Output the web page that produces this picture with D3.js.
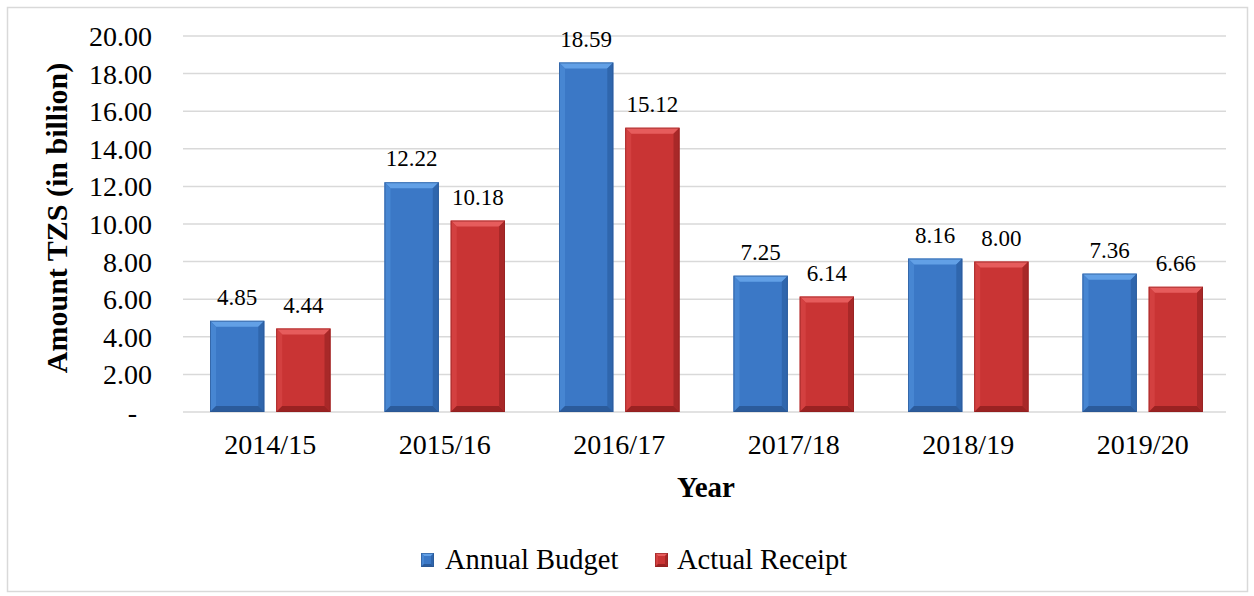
<!DOCTYPE html>
<html><head><meta charset="utf-8">
<script src="https://cdn.jsdelivr.net/npm/d3@7"></script>
<style>body{margin:0;background:#fff}svg{display:block}</style>
</head><body>
<svg id="c" width="1254" height="596"></svg>
<script>
const categories = ["2014/15","2015/16","2016/17","2017/18","2018/19","2019/20"];
const seriesNames = ["Annual Budget","Actual Receipt"];
const annualBudget = [4.85,12.22,18.59,7.25,8.16,7.36];
const actualReceipt = [4.44,10.18,15.12,6.14,8.00,6.66];
const yTicks = [0,2,4,6,8,10,12,14,16,18,20];
const labels = [["4.85","12.22","18.59","7.25","8.16","7.36"],["4.44","10.18","15.12","6.14","8.00","6.66"]];

const FONT = '"Liberation Serif"';
const svg = d3.select("#c");
svg.append("rect").attr("x",7.5).attr("y",7.5).attr("width",1240).attr("height",584)
  .attr("fill","#fff").attr("stroke","#d9d9d9").attr("stroke-width",1.5);

const m={l:183,r:1230,t:36,b:412};
const x0=d3.scaleBand().domain(categories).range([m.l,m.r]);
const x1=d3.scaleBand().domain(seriesNames).range([27,x0.bandwidth()-27]).paddingInner(0.18);
const y=d3.scaleLinear().domain([0,20]).range([m.b,m.t]);

// gridlines
svg.append("g").selectAll("line").data(yTicks).join("line")
  .attr("x1",m.l).attr("x2",m.r-4).attr("y1",d=>y(d)).attr("y2",d=>y(d))
  .attr("stroke","#d9d9d9").attr("stroke-width",1.5);

// y axis labels
const yAxis=d3.axisLeft(y).tickValues(yTicks).tickSize(0).tickPadding(0)
  .tickFormat(d=>d===0?"-":d3.format(".2f")(d));
const gy=svg.append("g").attr("transform",`translate(152,0)`).call(yAxis)
  .attr("font-family",FONT).attr("font-size",28);
gy.select(".domain").remove();
gy.selectAll("text").attr("fill","#000")
  .attr("dx",d=>d===0?-15:0).attr("dy","0.34em");

// x axis labels
const xAxis=d3.axisBottom(x0).tickSize(0).tickPadding(0);
const gx=svg.append("g").attr("transform",`translate(0,${m.b})`).call(xAxis)
  .attr("font-family",FONT).attr("font-size",28);
gx.select(".domain").remove();
gx.selectAll("text").attr("fill","#000").attr("y",42).attr("dy",0);

// axis titles
svg.append("text").attr("transform",`translate(67,218) rotate(-90)`).attr("text-anchor","middle")
  .attr("font-family",FONT).attr("font-size",30).attr("font-weight","bold").text("Amount TZS (in billion)");
svg.append("text").attr("x",706).attr("y",497).attr("text-anchor","middle")
  .attr("font-family",FONT).attr("font-size",29).attr("font-weight","bold").text("Year");

const palettes=[
  {base:"#3b78c6",top:"#62a0e6",left:"#4786d2",right:"#2f66ad",bottom:"#2b5b9b",edge:"#2a558f"},
  {base:"#c93434",top:"#e65c5c",left:"#d34040",right:"#a82828",bottom:"#9a2222",edge:"#8f2020"}
];
const seriesData=[annualBudget,actualReceipt];
const bv=6;
function drawBar(g,x,yt,w,h,p,bvl){
  const b=Math.min(bvl,h/2,w/2);
  g.append("rect").attr("x",x).attr("y",yt).attr("width",w).attr("height",h).attr("fill",p.base);
  const pts=(a)=>a.map(q=>q.join(",")).join(" ");
  g.append("polygon").attr("points",pts([[x,yt],[x+w,yt],[x+w-b,yt+b],[x+b,yt+b]])).attr("fill",p.top);
  g.append("polygon").attr("points",pts([[x,yt],[x+b,yt+b],[x+b,yt+h-b],[x,yt+h]])).attr("fill",p.left);
  g.append("polygon").attr("points",pts([[x+w,yt],[x+w,yt+h],[x+w-b,yt+h-b],[x+w-b,yt+b]])).attr("fill",p.right);
  g.append("polygon").attr("points",pts([[x,yt+h],[x+b,yt+h-b],[x+w-b,yt+h-b],[x+w,yt+h]])).attr("fill",p.bottom);
  g.append("rect").attr("x",x+0.5).attr("y",yt+0.5).attr("width",w-1).attr("height",h-1)
    .attr("fill","none").attr("stroke",p.edge).attr("stroke-width",1).attr("stroke-opacity",0.6);
}
seriesData.forEach((vals,si)=>{
  const g=svg.append("g");
  vals.forEach((v,i)=>{
    const bx=x0(categories[i])+x1(seriesNames[si]);
    const bw=x1.bandwidth();
    drawBar(g,bx,y(v),bw,y(0)-y(v),palettes[si],bv);
    g.append("text").attr("x",bx+bw/2).attr("y",y(v)-16).attr("text-anchor","middle")
      .attr("font-family",FONT).attr("font-size",23).attr("fill","#000").text(labels[si][i]);
  });
});

// legend
const leg=[{x:421,tx:445},{x:655,tx:677}];
seriesNames.forEach((n,i)=>{
  const g=svg.append("g");
  drawBar(g,leg[i].x,553,13,14,palettes[i],3);
  g.append("text").attr("x",leg[i].tx).attr("y",569)
    .attr("font-family",FONT).attr("font-size",28.5).attr("fill","#000").text(n);
});
</script>
</body></html>
